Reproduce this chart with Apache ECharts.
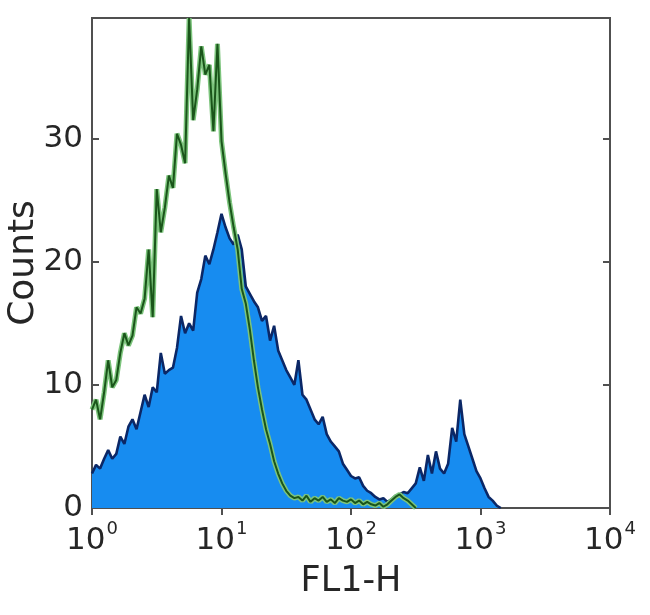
<!DOCTYPE html>
<html>
<head>
<meta charset="utf-8">
<script src="https://cdn.jsdelivr.net/npm/echarts@6/dist/echarts.min.js"></script>
<style>
html,body{margin:0;padding:0;background:#fff;}
#chart{width:650px;height:615px;}
</style>
</head>
<body>
<div id="chart"></div>
<script>
// Histogram channels: 32 bins per decade, starting at 10^0
const binsPerDecade = 32;
const xTickValues = [1, 10, 100, 1000, 10000];
const yTickValues = [0, 10, 20, 30];

// Blue filled histogram (counts per bin)
const blueCounts = [
  2.8, 3.5, 3.2, 4.0, 4.7, 4.0, 4.4, 5.8, 5.2, 6.6,
  7.2, 6.4, 7.8, 9.2, 8.2, 9.8, 9.4, 12.6, 10.9, 11.2,
  11.4, 13.0, 15.6, 14.2, 15.0, 14.4, 17.5, 18.6, 20.5, 19.8,
  21.0, 22.4, 23.9, 22.8, 21.9, 21.4, 22.2, 21.0, 18.0, 17.4,
  16.8, 16.3, 15.2, 15.6, 13.6, 14.8, 12.8, 12.0, 11.2, 10.6,
  10.0, 12.0, 9.2, 8.8, 8.0, 7.2, 6.8, 7.4, 6.0, 5.4,
  5.0, 4.6, 3.6, 3.1, 2.6, 2.4, 2.5, 1.8, 1.4, 1.2,
  0.9, 0.7, 0.8, 0.5, 0.7, 1.0, 1.1, 1.3, 1.2, 1.6,
  2.0, 3.3, 2.2, 4.3, 2.8, 4.6, 3.2, 2.8, 3.6, 6.5,
  5.4, 8.8, 6.0, 5.0, 4.0, 3.0, 2.4, 1.6, 0.9, 0.6,
  0.2, 0
];

// Green control histogram (counts per bin)
const greenCounts = [
  8.0, 8.8, 7.2, 9.4, 12.0, 9.8, 10.4, 12.6, 14.2, 13.2,
  14.0, 16.3, 15.8, 17.0, 21.0, 15.5, 25.9, 22.4, 24.4, 27.0,
  26.0, 30.4, 29.5, 28.0, 39.8, 31.5, 34.0, 37.5, 35.2, 36.0,
  30.6, 37.7, 29.8, 27.2, 24.8, 22.8, 21.0, 17.8, 16.6, 14.5,
  12.0, 9.8, 8.0, 6.4, 5.2, 3.8, 2.8, 2.0, 1.4, 1.0,
  0.8, 0.9, 0.6, 1.0, 0.5, 0.8, 0.6, 0.9, 0.5, 0.7,
  0.4, 0.8, 0.6, 0.5, 0.7, 0.4, 0.6, 0.3, 0.5, 0.3,
  0.2, 0.4, 0.1, 0.3, 0.6, 0.9, 1.1, 0.8, 0.6, 0.3,
  0
];

const channelValue = i => Math.pow(10, i / binsPerDecade);
const blueData = blueCounts.map((c, i) => [channelValue(i), c]);
const greenData = greenCounts.map((c, i) => [channelValue(i), c]);

const chart = echarts.init(document.getElementById('chart'));
const labelFont = 'DejaVu Sans';
const textColor = '#262626';
const frameColor = '#505050';

const xLabelFmt = v => {
  const e = Math.round(Math.log10(v));
  if (!xTickValues.includes(Math.round(v))) return '';
  return '{b|10}{s|' + e + '}';
};
const yLabelFmt = v => yTickValues.includes(v) ? String(v) : '';

chart.setOption({
  animation: false,
  backgroundColor: '#fff',
  grid: {
    left: 92, right: 40, top: 18, bottom: 107,
    containLabel: false, outerBoundsMode: 'none',
    show: true, borderColor: frameColor, borderWidth: 2, backgroundColor: 'transparent'
  },
  xAxis: [{
    type: 'log', logBase: 10, min: 1, max: 10000,
    position: 'bottom',
    name: 'FL1-H', nameLocation: 'middle', nameGap: 56,
    nameTextStyle: {fontFamily: labelFont, fontSize: 35, color: textColor},
    axisLine: {show: false},
    axisTick: {show: true, inside: true, length: 7, lineStyle: {color: frameColor, width: 2}},
    minorTick: {show: false},
    splitLine: {show: false},
    axisLabel: {
      formatter: xLabelFmt, margin: 12, color: textColor,
      rich: {
        b: {fontFamily: labelFont, fontSize: 31, color: textColor, lineHeight: 36, verticalAlign: 'bottom'},
        s: {fontFamily: labelFont, fontSize: 18, color: textColor, lineHeight: 36, verticalAlign: 'top', padding: [0, 0, 0, 1]}
      }
    }
  }, {
    type: 'log', logBase: 10, min: 1, max: 10000,
    position: 'top',
    axisLine: {show: false},
    axisTick: {show: true, inside: true, length: 7, lineStyle: {color: frameColor, width: 2}},
    axisLabel: {show: false},
    splitLine: {show: false}
  }],
  yAxis: [{
    type: 'value', min: 0, max: 39.8, interval: 10,
    position: 'left',
    name: 'Counts', nameLocation: 'middle', nameGap: 50, nameMoveOverlap: false,
    nameTextStyle: {fontFamily: labelFont, fontSize: 36, color: textColor},
    axisLine: {show: false},
    axisTick: {show: true, inside: true, length: 7, lineStyle: {color: frameColor, width: 2}},
    splitLine: {show: false},
    axisLabel: {formatter: yLabelFmt, fontFamily: labelFont, fontSize: 31, color: textColor, margin: 9}
  }, {
    type: 'value', min: 0, max: 39.8, interval: 10,
    position: 'right',
    axisLine: {show: false},
    axisTick: {show: true, inside: true, length: 7, lineStyle: {color: frameColor, width: 2}},
    axisLabel: {show: false},
    splitLine: {show: false}
  }],
  series: [{
    name: 'Stained',
    type: 'line',
    data: blueData,
    symbol: 'none',
    lineStyle: {color: '#0b2766', width: 2.6},
    areaStyle: {color: '#178cf0', opacity: 1},
    z: 2
  }, {
    name: 'Control halo',
    type: 'line',
    data: greenData,
    symbol: 'none',
    lineStyle: {color: '#7cc47c', width: 5},
    z: 3
  }, {
    name: 'Control',
    type: 'line',
    data: greenData,
    symbol: 'none',
    lineStyle: {color: '#1a551a', width: 2},
    z: 4
  }]
});
</script>
</body>
</html>
